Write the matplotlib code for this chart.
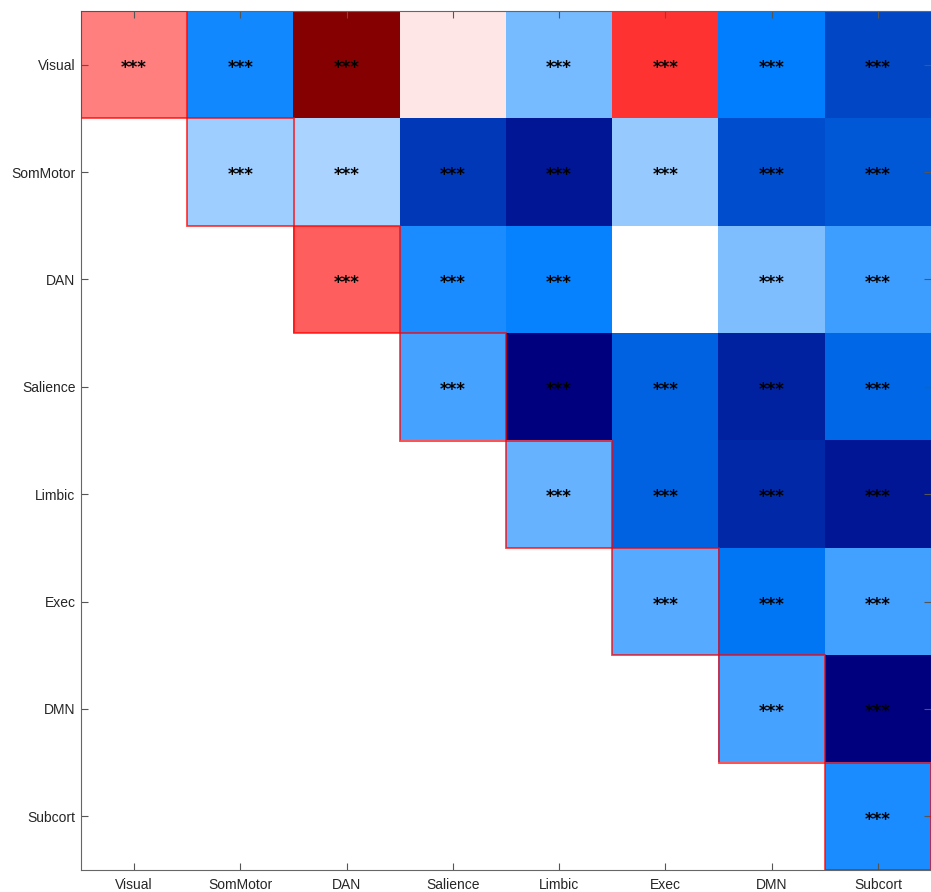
import numpy as np
import matplotlib.pyplot as plt
from matplotlib.colors import LinearSegmentedColormap
from matplotlib.patches import Rectangle

networks = ['Visual', 'SomMotor', 'DAN', 'Salience', 'Limbic', 'Exec', 'DMN', 'Subcort']

# upper triangle of the network-by-network effect matrix (row by row)
row_visual   = [0.25, -0.46, 0.97, 0.045, -0.265, 0.40, -0.50, -0.72]
row_sommotor = [-0.186, -0.167, -0.78, -0.91, -0.206, -0.69, -0.65]
row_dan      = [0.31, -0.45, -0.49, 0.0, -0.25, -0.375]
row_salience = [-0.36, -1.0, -0.61, -0.86, -0.59]
row_limbic   = [-0.30, -0.61, -0.84, -0.91]
row_exec     = [-0.33, -0.53, -0.37]
row_dmn      = [-0.36, -1.0]
row_subcort  = [-0.45]

# significance marks, same layout ('' = not significant)
sig_visual   = ['***', '***', '***', '', '***', '***', '***', '***']
sig_sommotor = ['***'] * 7
sig_dan      = ['***', '***', '***', '', '***', '***']
sig_salience = ['***'] * 5
sig_limbic   = ['***'] * 4
sig_exec     = ['***'] * 3
sig_dmn      = ['***'] * 2
sig_subcort  = ['***']

rows = [row_visual, row_sommotor, row_dan, row_salience, row_limbic, row_exec, row_dmn, row_subcort]
sigs = [sig_visual, sig_sommotor, sig_dan, sig_salience, sig_limbic, sig_exec, sig_dmn, sig_subcort]

n = len(networks)
M = np.full((n, n), np.nan)
for i, r in enumerate(rows):
    M[i, i:] = r

cmap = LinearSegmentedColormap.from_list('bwr_dark', [
    (0.0, (0, 0, 0.5)),
    (0.25, (0, 0.5, 1)),
    (0.5, (1, 1, 1)),
    (0.75, (1, 0, 0)),
    (1.0, (0.5, 0, 0)),
], N=255)
cmap.set_bad('white')

plt.rcParams['font.family'] = ['Liberation Sans', 'DejaVu Sans']

fig = plt.figure(figsize=(9.31, 8.92), dpi=100)
ax = fig.add_axes([81/931, 22/892, 850/931, 859/892])
ax.imshow(np.ma.masked_invalid(M), cmap=cmap, vmin=-1, vmax=1, aspect='auto',
          extent=(0.5, n + 0.5, n + 0.5, 0.5), interpolation='nearest')

for i in range(n):
    ax.add_patch(Rectangle((i + 0.5, i + 0.5), 1, 1, fill=False,
                           edgecolor=(1, 0, 0, 0.75), lw=1.3, zorder=3))
    for k, s in enumerate(sigs[i]):
        if s:
            ax.text(i + 1 + k, i + 1.03, s, ha='center', va='center', fontsize=12,
                    family='DejaVu Sans', fontweight='bold', color='black', zorder=4)

ax.set_xlim(0.5, n + 0.5)
ax.set_ylim(n + 0.5, 0.5)
ax.set_xticks(range(1, n + 1))
ax.set_yticks(range(1, n + 1))
ax.set_xticklabels(networks)
ax.set_yticklabels(networks)
ax.tick_params(direction='in', length=5, width=0.8, color='#555555',
               labelcolor='#262626', labelsize=10, top=True, right=True)
ax.tick_params(axis='x', pad=6)
ax.tick_params(axis='y', pad=4)
for sp in ax.spines.values():
    sp.set_color('#666666')
    sp.set_linewidth(0.8)

fig.savefig('out.png', dpi=100)
